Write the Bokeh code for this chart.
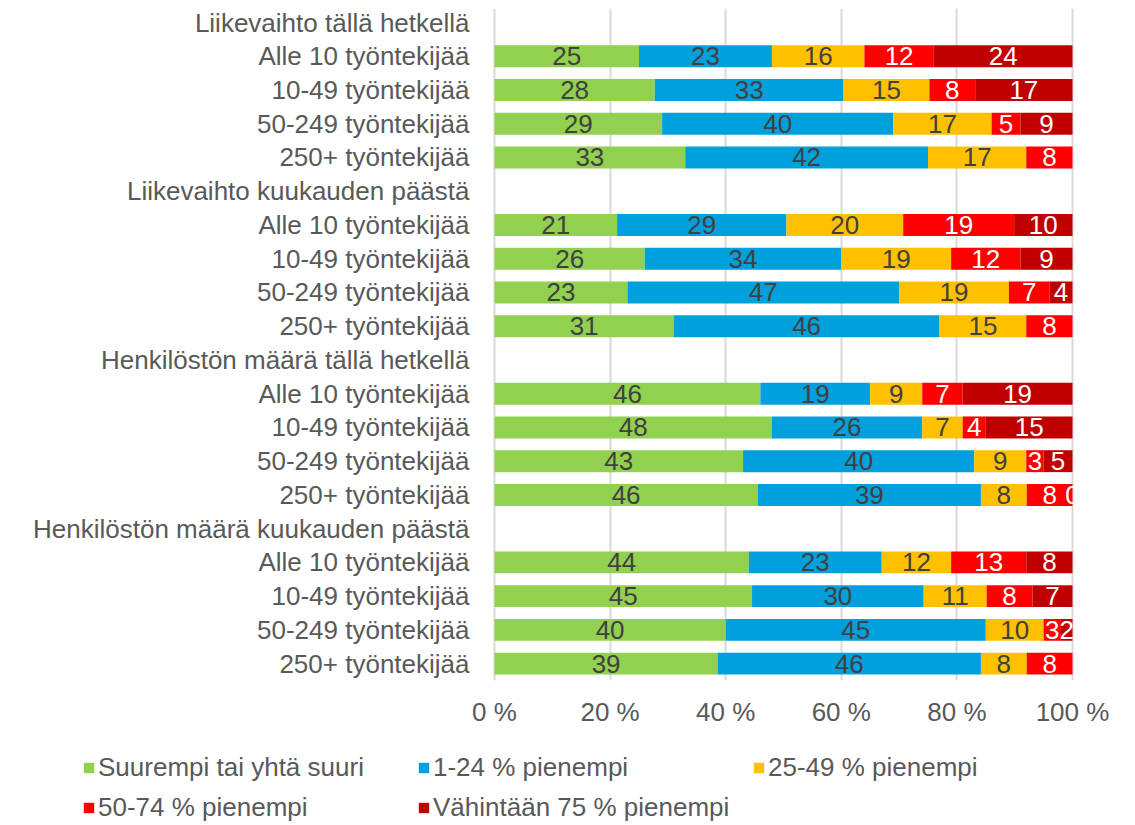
from bokeh.plotting import figure
from bokeh.layouts import column
from bokeh.models import (ColumnDataSource, Range1d, FixedTicker, Legend, LegendItem)
from bokeh.core.properties import value
from bokeh.embed import file_html
from bokeh.resources import INLINE

# ---- data ----
row_labels = [
    "Liikevaihto tällä hetkellä",
    "Alle 10 työntekijää", "10-49 työntekijää", "50-249 työntekijää", "250+ työntekijää",
    "Liikevaihto kuukauden päästä",
    "Alle 10 työntekijää", "10-49 työntekijää", "50-249 työntekijää", "250+ työntekijää",
    "Henkilöstön määrä tällä hetkellä",
    "Alle 10 työntekijää", "10-49 työntekijää", "50-249 työntekijää", "250+ työntekijää",
    "Henkilöstön määrä kuukauden päästä",
    "Alle 10 työntekijää", "10-49 työntekijää", "50-249 työntekijää", "250+ työntekijää",
]
series_names = ["Suurempi tai yhtä suuri", "1-24 % pienempi", "25-49 % pienempi",
                "50-74 % pienempi", "Vähintään 75 % pienempi"]
suurempi = [None, 25, 28, 29, 33, None, 21, 26, 23, 31, None, 46, 48, 43, 46, None, 44, 45, 40, 39]
p1_24 = [None, 23, 33, 40, 42, None, 29, 34, 47, 46, None, 19, 26, 40, 39, None, 23, 30, 45, 46]
p25_49 = [None, 16, 15, 17, 17, None, 20, 19, 19, 15, None, 9, 7, 9, 8, None, 12, 11, 10, 8]
p50_74 = [None, 12, 8, 5, 8, None, 19, 12, 7, 8, None, 7, 4, 3, 8, None, 13, 8, 3, 8]
p75 = [None, 24, 17, 9, None, None, 10, 9, 4, None, None, 19, 15, 5, 0, None, 8, 7, 2, None]
x_ticks = [0, 20, 40, 60, 80, 100]

series = [suurempi, p1_24, p25_49, p50_74, p75]
colors = ["#92D050", "#00A0DC", "#FFC000", "#FF0000", "#C00000"]
text_colors = ["#404040", "#404040", "#404040", "#FFFFFF", "#FFFFFF"]
FONT = "Liberation Sans"
FS = "26px"
GREY = "#595959"

# layout geometry (pixels)
W = 1127
PLOT_LEFT, PLOT_RIGHT = 494, 1072
px_per_unit = (PLOT_RIGHT - PLOT_LEFT) / 100.0
x_start = -PLOT_LEFT / px_per_unit
x_end = 100 + (W - PLOT_RIGHT) / px_per_unit
y_top, y_bottom = -0.415, 19.5

p = figure(width=W, height=740, output_backend="svg", toolbar_location=None,
           x_range=Range1d(x_start, x_end), y_range=Range1d(y_bottom, y_top),
           y_axis_location=None,
           min_border_left=0, min_border_right=0, min_border_top=8,
           min_border_bottom=60)
p.outline_line_color = None

n = len(row_labels)
totals = [sum(s[i] for s in series if s[i] is not None) for i in range(n)]
cum = [0.0] * n
for k, s in enumerate(series):
    ys, lefts, rights, mids, txt = [], [], [], [], []
    for i in range(n):
        if s[i] is None:
            continue
        w = s[i] / totals[i] * 100.0
        ys.append(i)
        lefts.append(cum[i])
        rights.append(cum[i] + w)
        mids.append(cum[i] + w / 2)
        txt.append(str(s[i]))
        cum[i] += w
    src = ColumnDataSource(dict(y=ys, left=lefts, right=rights, mid=mids, txt=txt))
    p.hbar(y="y", left="left", right="right", height=0.65, source=src,
           fill_color=colors[k], line_color=None)
    p.text(x="mid", y="y", text="txt", source=src, text_align="center",
           text_baseline="middle", text_font=value(FONT), text_font_size=FS,
           text_color=text_colors[k])

# white mask right of 100 % so labels are cut at the plot edge (as in the original)
mask_start = 100 + 1.0 / px_per_unit
p.block(x=[mask_start], y=[y_top], width=[x_end - mask_start], height=[y_bottom - y_top],
        fill_color="white", line_color=None)

# category labels (left of the 0 % line)
cat_src = ColumnDataSource(dict(x=[0] * n, y=list(range(n)), t=row_labels))
p.text(x="x", y="y", text="t", source=cat_src, x_offset=-25, text_align="right",
       text_baseline="middle", text_font=value(FONT), text_font_size=FS,
       text_color=GREY)

# x axis
p.xaxis.ticker = FixedTicker(ticks=x_ticks)
p.xaxis.major_label_overrides = {t: f"{t} %" for t in x_ticks}
p.xaxis.axis_line_color = None
p.xaxis.major_tick_line_color = None
p.xaxis.minor_tick_line_color = None
p.xaxis.major_label_standoff = 10
p.xaxis.major_label_text_font = FONT
p.xaxis.major_label_text_font_size = FS
p.xaxis.major_label_text_color = GREY

p.xgrid.grid_line_color = "#D9D9D9"
p.xgrid.grid_line_width = 2
p.ygrid.grid_line_color = None

# ---- legend strip ----
lg = figure(width=W, height=85, output_backend="svg", toolbar_location=None,
            x_range=Range1d(0, 1), y_range=Range1d(0, 1),
            x_axis_location=None, y_axis_location=None,
            min_border_left=0, min_border_right=0, min_border_top=0, min_border_bottom=0)
lg.outline_line_color = None
lg.xgrid.grid_line_color = None
lg.ygrid.grid_line_color = None
items = []
for k in range(5):
    r = lg.hbar(y=[0], left=[0], right=[0], height=0, fill_color=colors[k], line_color=None)
    items.append(LegendItem(label=series_names[k], renderers=[r]))
legend = Legend(items=items, location=(82, 2), ncols=3, orientation="horizontal",
                glyph_width=13, glyph_height=13, label_standoff=3, spacing=9,
                label_width=310, label_height=30,
                padding=0, margin=0, border_line_color=None, background_fill_alpha=0,
                label_text_font=FONT, label_text_font_size=FS, label_text_color=GREY)
lg.add_layout(legend, "center")

layout = column(p, lg, spacing=0)
open("out.html", "w").write(file_html(layout, INLINE))
